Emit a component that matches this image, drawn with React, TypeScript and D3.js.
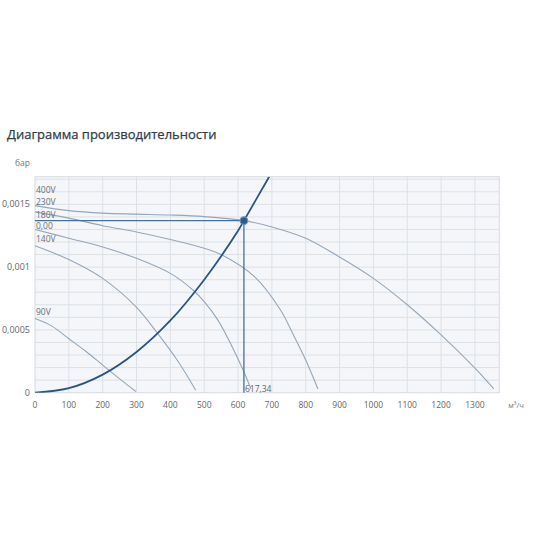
import { useRef, useEffect } from "react";
import * as d3 from "d3";

type Pt = [number, number];

const xTicks = [0, 100, 200, 300, 400, 500, 600, 700, 800, 900, 1000, 1100, 1200, 1300];
const yTicks = [0, 0.0005, 0.001, 0.0015];
const yTickLabels = ["0", "0,0005", "0,001", "0,0015"];

const curve400: Pt[] = [
  [0, 0.00149], [100, 0.00145], [200, 0.00143], [300, 0.001422], [400, 0.001415],
  [500, 0.001402], [617, 0.00137], [700, 0.00132], [800, 0.00123], [900, 0.00108],
  [1000, 0.00091], [1100, 0.0007], [1200, 0.00046], [1300, 0.000195], [1356, 0.00003],
];
const curve230: Pt[] = [
  [0, 0.00144], [100, 0.00139], [200, 0.00133], [300, 0.00128], [400, 0.00122],
  [500, 0.00115], [550, 0.0011], [650, 0.00092], [725, 0.00066], [760, 0.00048],
  [800, 0.00026], [836, 0.00003],
];
const curve180: Pt[] = [
  [0, 0.0013], [100, 0.00123], [200, 0.00116], [300, 0.00107], [400, 0.00095],
  [470, 0.00081], [500, 0.000725], [540, 0.00058], [580, 0.00038], [615, 0.00018],
  [638, 0.00003],
];
const curve140: Pt[] = [
  [0, 0.00117], [100, 0.00106], [200, 0.00091], [300, 0.00068], [360, 0.00048],
  [420, 0.00026], [475, 0.00002],
];
const curve90: Pt[] = [
  [0, 0.00059], [50, 0.00053], [100, 0.00043], [150, 0.00033], [200, 0.00022],
  [250, 0.00011], [298, 0.00001],
];
const systemCurve: Pt[] = [
  [0, 0], [100, 0.000036], [200, 0.000144], [300, 0.000324], [400, 0.000575],
  [500, 0.0009], [600, 0.00129], [617.34, 0.00137], [692, 0.00172],
];
const fanCurves = [curve400, curve230, curve180, curve140, curve90];

const curveLabels = ["400V", "230V", "180V", "0,00", "140V", "90V"];
const curveLabelValues = [0.00159, 0.001495, 0.00139, 0.001305, 0.0012, 0.00062];

const operating: Pt = [617.34, 0.00137];
const operatingLabel = "617,34";

const App = () => {
  const chartRef = useRef(null);

  useEffect(() => {
    const el = chartRef.current;
    const margin = { top: 176.7, left: 35 };
    const width = 464.3;
    const height = 216;

    const svg = d3
      .select(el)
      .append("svg")
      .attr("width", 550)
      .attr("height", 550)
      .style("position", "absolute")
      .style("left", "0px")
      .style("top", "0px")
      .style("font-family", "'Open Sans', sans-serif")
      .style("background", "#fff");

    svg
      .append("text")
      .attr("x", 7)
      .attr("y", 139)
      .attr("font-size", 13)
      .attr("fill", "#2f3d4b")
      .attr("stroke", "#2f3d4b")
      .attr("stroke-width", 0.25)
      .text("Диаграмма производительности");

    svg
      .append("text")
      .attr("x", 30)
      .attr("y", 166)
      .attr("text-anchor", "end")
      .attr("font-size", 8.5)
      .attr("fill", "#777")
      .text("бар");

    const g = svg.append("g").attr("transform", `translate(${margin.left}, ${margin.top})`);

    const x = d3.scaleLinear().domain([0, 1372]).range([0, width]);
    const y = d3.scaleLinear().domain([0, 0.00172]).range([height, 0]);

    g.append("rect").attr("width", width).attr("height", height).attr("fill", "#f4f6f9");

    // horizontal grid every 0.0001
    g.selectAll(".hgrid")
      .data(d3.range(1, 18).map(i => i * 0.0001))
      .enter()
      .append("line")
      .attr("x1", 0)
      .attr("x2", width)
      .attr("y1", d => y(d))
      .attr("y2", d => y(d))
      .attr("stroke", "#dde1e6")
      .attr("stroke-width", 1);

    g.selectAll(".vgrid")
      .data(xTicks.slice(1))
      .enter()
      .append("line")
      .attr("x1", d => x(d))
      .attr("x2", d => x(d))
      .attr("y1", 0)
      .attr("y2", height)
      .attr("stroke", "#dde1e6")
      .attr("stroke-width", 1);

    g.append("rect")
      .attr("width", width)
      .attr("height", height)
      .attr("fill", "none")
      .attr("stroke", "#d6dbe0")
      .attr("stroke-width", 1);

    const line = d3
      .line<Pt>()
      .x(d => x(d[0]))
      .y(d => y(d[1]))
      .curve(d3.curveCatmullRom.alpha(0.5));

    g.selectAll(".fan")
      .data(fanCurves)
      .enter()
      .append("path")
      .attr("d", d => line(d))
      .attr("fill", "none")
      .attr("stroke", "#95a7ba")
      .attr("stroke-width", 1.1);

    // operating point guides
    g.append("line")
      .attr("x1", 0)
      .attr("x2", x(operating[0]))
      .attr("y1", y(operating[1]))
      .attr("y2", y(operating[1]))
      .attr("stroke", "#4a6f96")
      .attr("stroke-width", 1.3);
    g.append("line")
      .attr("x1", x(operating[0]))
      .attr("x2", x(operating[0]))
      .attr("y1", y(operating[1]))
      .attr("y2", height)
      .attr("stroke", "#4a6f96")
      .attr("stroke-width", 1.3);

    svg
      .append("clipPath")
      .attr("id", "plotclip")
      .append("rect")
      .attr("x", 0)
      .attr("y", 0)
      .attr("width", width)
      .attr("height", height);

    g.append("path")
      .attr("d", line(systemCurve))
      .attr("clip-path", "url(#plotclip)")
      .attr("fill", "none")
      .attr("stroke", "#2b5683")
      .attr("stroke-width", 1.8);

    g.append("circle")
      .attr("cx", x(operating[0]))
      .attr("cy", y(operating[1]))
      .attr("r", 3.8)
      .attr("fill", "#2b5a8c")
      .attr("stroke", "#6d90b6")
      .attr("stroke-width", 1.2);

    g.append("text")
      .attr("x", x(operating[0]) + 1)
      .attr("y", height - 1)
      .attr("font-size", 8.5)
      .attr("fill", "#666")
      .text(operatingLabel);

    g.selectAll(".clabel")
      .data(curveLabels)
      .enter()
      .append("text")
      .attr("x", 1)
      .attr("y", (_d, i) => y(curveLabelValues[i]))
      .attr("font-size", 8.5)
      .attr("fill", "#6a6f75")
      .text(d => d);

    g.selectAll(".ytick")
      .data(yTicks)
      .enter()
      .append("text")
      .attr("x", -5)
      .attr("y", d => y(d) + 3)
      .attr("text-anchor", "end")
      .attr("font-size", 9)
      .attr("fill", "#666")
      .text((_d, i) => yTickLabels[i]);

    g.selectAll(".xtick")
      .data(xTicks)
      .enter()
      .append("text")
      .attr("x", d => x(d))
      .attr("y", height + 15)
      .attr("text-anchor", "middle")
      .attr("font-size", 8.5)
      .attr("fill", "#666")
      .text(d => String(d));

    g.append("text")
      .attr("x", width + 9)
      .attr("y", height + 15)
      .attr("font-size", 7.5)
      .attr("fill", "#777")
      .text("м³/ч");

    return () => {
      d3.select(el).select("svg").remove();
    };
  }, []);

  return <div ref={chartRef}></div>;
};

export default App;
